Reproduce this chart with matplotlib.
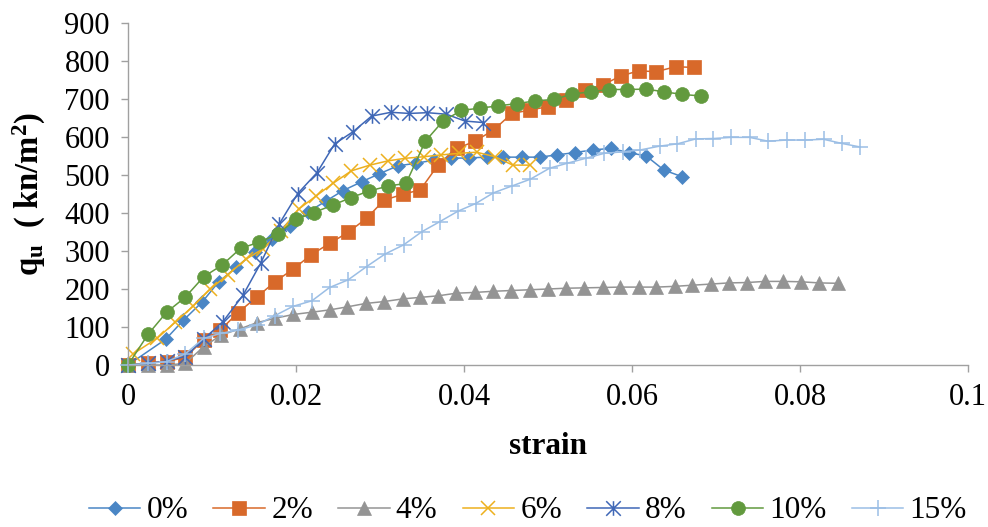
import numpy as np
import matplotlib
matplotlib.use("Agg")
import matplotlib.pyplot as plt
from matplotlib.path import Path

plt.rcParams['font.family'] = ['Liberation Serif', 'DejaVu Serif']
plt.rcParams['mathtext.fontset'] = 'custom'
plt.rcParams['mathtext.rm'] = 'Liberation Serif'
plt.rcParams['mathtext.it'] = 'Liberation Serif:italic'
plt.rcParams['mathtext.bf'] = 'Liberation Serif:bold'

# ---- data ----
s0 = [0, 0.0045, 0.0066, 0.0088, 0.0108, 0.0129, 0.0151, 0.0172, 0.0193, 0.0214, 0.0236,
      0.0256, 0.0278, 0.0299, 0.0321, 0.0343, 0.0364, 0.0385, 0.0406, 0.0427, 0.0447,
      0.0469, 0.0490, 0.0511, 0.0532, 0.0553, 0.0575, 0.0596, 0.0617, 0.0638, 0.0659]
q0 = [0, 68, 118, 165, 219, 257, 298, 331, 366, 402, 432, 459, 482, 503, 524, 531, 539,
      544, 545, 547, 547, 547, 547, 553, 559, 566, 570, 559, 550, 513, 496]

s2 = [0, 0.0024, 0.0046, 0.0068, 0.0090, 0.0110, 0.0131, 0.0153, 0.0175, 0.0197, 0.0218,
      0.0240, 0.0262, 0.0284, 0.0305, 0.0327, 0.0348, 0.0369, 0.0392, 0.0413, 0.0435,
      0.0457, 0.0479, 0.0500, 0.0522, 0.0544, 0.0565, 0.0587, 0.0608, 0.0629, 0.0652, 0.0674]
q2 = [0, 6, 9, 20, 66, 92, 138, 178, 219, 253, 290, 320, 349, 386, 434, 449, 461, 526, 570,
      589, 618, 662, 671, 680, 697, 724, 737, 761, 774, 772, 785, 783]

s4 = [0, 0.0024, 0.0046, 0.0068, 0.0090, 0.0111, 0.0133, 0.0153, 0.0175, 0.0197, 0.0219,
      0.0240, 0.0261, 0.0283, 0.0305, 0.0327, 0.0348, 0.0369, 0.0391, 0.0413, 0.0435,
      0.0456, 0.0478, 0.0500, 0.0521, 0.0543, 0.0565, 0.0586, 0.0608, 0.0629, 0.0651,
      0.0672, 0.0694, 0.0715, 0.0737, 0.0758, 0.0780, 0.0801, 0.0823, 0.0845]
q4 = [0, 0, 0, 4, 48, 79, 95, 111, 123, 133, 139, 145, 153, 162, 167, 174, 178, 182, 189,
      191, 194, 196, 198, 200, 202, 203, 204, 205, 205, 205, 207, 210, 213, 216, 217, 220,
      220, 219, 216, 215]

s6 = [0.0006, 0.0035, 0.0056, 0.0077, 0.0098, 0.0119, 0.0140, 0.0161, 0.0182, 0.0203,
      0.0224, 0.0244, 0.0266, 0.0288, 0.0309, 0.0330, 0.0352, 0.0373, 0.0394, 0.0415,
      0.0437, 0.0458, 0.0479]
q6 = [29, 71, 112, 154, 200, 238, 278, 306, 352, 410, 445, 478, 511, 526, 537, 544, 548,
      553, 557, 560, 548, 526, 526]

s8 = [0, 0.0024, 0.0046, 0.0068, 0.0090, 0.0113, 0.0137, 0.0158, 0.0180, 0.0202, 0.0225,
      0.0246, 0.0268, 0.0290, 0.0313, 0.0335, 0.0356, 0.0379, 0.0401, 0.0423]
q8 = [0, 4, 11, 22, 68, 114, 184, 268, 371, 451, 506, 582, 614, 655, 665, 662, 664, 660,
      642, 638]

s10 = [0, 0.0024, 0.0046, 0.0068, 0.0090, 0.0112, 0.0134, 0.0156, 0.0178, 0.0200, 0.0221,
       0.0244, 0.0265, 0.0287, 0.0310, 0.0331, 0.0354, 0.0375, 0.0397, 0.0419, 0.0441,
       0.0463, 0.0485, 0.0507, 0.0529, 0.0551, 0.0573, 0.0594, 0.0617, 0.0638, 0.0660, 0.0682]
q10 = [0, 81, 139, 178, 232, 263, 307, 323, 344, 383, 401, 421, 440, 458, 471, 478, 589,
       642, 670, 676, 682, 688, 695, 699, 713, 719, 725, 725, 726, 719, 712, 708]

s15 = [0, 0.0024, 0.0046, 0.0068, 0.0090, 0.0110, 0.0131, 0.0153, 0.0175, 0.0196, 0.0219,
       0.0240, 0.0262, 0.0284, 0.0306, 0.0328, 0.0350, 0.0371, 0.0393, 0.0414, 0.0435,
       0.0457, 0.0479, 0.0502, 0.0523, 0.0545, 0.0567, 0.0589, 0.0610, 0.0633, 0.0654,
       0.0676, 0.0697, 0.0718, 0.0740, 0.0762, 0.0784, 0.0806, 0.0828, 0.0850, 0.0871]
q15 = [0, 4, 9, 29, 70, 83, 92, 105, 130, 154, 169, 204, 224, 259, 292, 316, 351, 377, 405,
       425, 453, 471, 489, 518, 531, 544, 557, 561, 566, 576, 582, 595, 596, 599, 599, 589,
       592, 592, 594, 583, 574]

labels = ['0%', '2%', '4%', '6%', '8%', '10%', '15%']
xticks = [0, 0.02, 0.04, 0.06, 0.08, 0.1]
xtick_labels = ['0', '0.02', '0.04', '0.06', '0.08', '0.1']
yticks = [0, 100, 200, 300, 400, 500, 600, 700, 800, 900]

# excel-like star: vertical bar plus an x
star = Path([(0, -1), (0, 1), (-1, -1), (1, 1), (-1, 1), (1, -1)],
            [Path.MOVETO, Path.LINETO, Path.MOVETO, Path.LINETO, Path.MOVETO, Path.LINETO])

series = [
    (s0, q0, '#4A86C5', 'D', 7.2, True),
    (s2, q2, '#D8692A', 's', 10, True),
    (s4, q4, '#949494', '^', 10, True),
    (s6, q6, '#EDB01E', 'x', 10.5, False),
    (s8, q8, '#3F67B6', star, 10.5, False),
    (s10, q10, '#629A3E', 'o', 10, True),
    (s15, q15, '#9BBEE5', '+', 11, False),
]

fig = plt.figure(figsize=(9.88, 5.27), dpi=100)
ax = fig.add_axes([128/988, 1 - 365/527, 840/988, 342/527])

for (x, y, col, mk, ms, filled), lab in zip(series, labels):
    if filled:
        ax.plot(x, y, color=col, linewidth=1.1, marker=mk, markersize=ms,
                markerfacecolor=col, markeredgecolor=col, markeredgewidth=0.5,
                label=lab, clip_on=False)
    else:
        ax.plot(x, y, color=col, linewidth=1.1, marker=mk, markersize=ms,
                markeredgecolor=col, markeredgewidth=1.1, label=lab, clip_on=False)

ax.set_xlim(0, 0.1)
ax.set_ylim(0, 900)
ax.set_xticks(xticks)
ax.set_xticklabels(xtick_labels)
ax.set_yticks(yticks)

for side in ['top', 'right']:
    ax.spines[side].set_visible(False)
for side in ['left', 'bottom']:
    ax.spines[side].set_color('#A0A0A0')
    ax.spines[side].set_linewidth(1.0)
ax.tick_params(axis='both', colors='#A0A0A0', labelcolor='black', labelsize=22,
               length=5, width=1.0, direction='out')
ax.tick_params(axis='y', pad=8)
ax.tick_params(axis='x', pad=8)

ax.set_xlabel('strain', fontsize=22.5, fontweight='bold')
ax.xaxis.set_label_coords(0.5, -0.237)
ax.xaxis.label.set_va('center')
ax.set_ylabel(r'$\mathbf{q_u}$  ( kn/m$^\mathbf{2}$)', fontsize=23.5, fontweight='bold')
ax.yaxis.set_label_coords(-0.117, 0.5)
ax.yaxis.label.set_va('center')

fig.legend(loc='center', bbox_to_anchor=(528/988, 1 - 511/527), ncol=7, frameon=False,
           fontsize=22.5, handlelength=1.65, handletextpad=0.2, columnspacing=0.8)

fig.savefig('out.png', dpi=100)
